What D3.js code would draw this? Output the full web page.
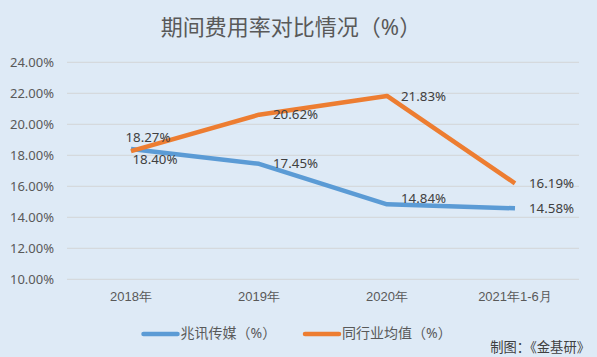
<!DOCTYPE html>
<html><head><meta charset="utf-8">
<script src="https://cdn.jsdelivr.net/npm/d3@7/dist/d3.min.js"></script>
<style>
html,body{margin:0;padding:0;background:#DEEAF6;}
svg{display:block;font-family:"Noto Sans","Noto Sans CJK SC",sans-serif;}
</style></head>
<body>
<svg id="c" width="597" height="357"></svg>
<script>
const categories = ["2018年","2019年","2020年","2021年1-6月"];
const zhaoxun = [18.40, 17.45, 14.84, 14.58];
const industry = [18.27, 20.62, 21.83, 16.19];
const yTicks = [10,12,14,16,18,20,22,24];
const seriesNames = ["兆讯传媒（%）","同行业均值（%）"];
const colors = ["#5B9BD5","#ED7D31"];
const title = "期间费用率对比情况（%）";
const source = "制图：《金基研》";

const svg = d3.select("#c");
const W = 597, H = 357;
svg.append("rect").attr("width",W).attr("height",H).attr("fill","#DEEAF6");

const x = d3.scaleBand().domain(categories).range([67,579]);
const y = d3.scaleLinear().domain([10,24]).range([279.3,62.3]);
const cx = c => x(c) + x.bandwidth()/2;

svg.append("text").attr("x",291).attr("y",34.5).attr("text-anchor","middle")
  .attr("font-size",22).attr("fill","#595959").text(title);

// grid
svg.append("g").selectAll("line").data(yTicks).join("line")
  .attr("x1",67).attr("x2",579).attr("y1",d=>y(d)).attr("y2",d=>y(d))
  .attr("stroke","#D3D5D8").attr("stroke-width",1);

// y axis
const yAxis = d3.axisLeft(y).tickValues(yTicks).tickFormat(d=>d.toFixed(2)+"%").tickSize(0).tickPadding(13);
const ga = svg.append("g").attr("transform","translate(67,0)").call(yAxis);
ga.select(".domain").remove();
ga.selectAll("text").attr("font-size",13).attr("fill","#595959").attr("font-family","Noto Sans");

// x axis
const xAxis = d3.axisBottom(x).tickSize(0).tickPadding(12);
const gx = svg.append("g").attr("transform","translate(0,279.3)").call(xAxis);
gx.select(".domain").remove();
gx.selectAll("text").attr("font-size",13).attr("fill","#595959");

const line = d3.line().x((d,i)=>cx(categories[i])).y(d=>y(d));
[zhaoxun, industry].forEach((s,k)=>{
  svg.append("path").datum(s).attr("d",line).attr("fill","none")
    .attr("stroke",colors[k]).attr("stroke-width",4.5)
    .attr("stroke-linejoin","round").attr("stroke-linecap","butt");
});

// labels
function label(val, i, k){
  let px = cx(categories[i]), py = y(val);
  let lx = px + 14, ly = py, anchor = "start";
  if (i===0){
    anchor = "middle";
    if (k===1){ lx = px + 17; ly = py - 14; }
    else { lx = px + 24; ly = py + 10; }
  }
  if (i===2 && k===0){ ly = py - 6; }
  svg.append("text").attr("x",lx).attr("y",ly).attr("dy","0.35em")
    .attr("text-anchor",anchor).attr("font-size",13.3).attr("fill","#404040")
    .text(val.toFixed(2)+"%");
}
zhaoxun.forEach((v,i)=>label(v,i,0));
industry.forEach((v,i)=>label(v,i,1));

// legend
const lg = [{x:143.5,t:seriesNames[0],c:colors[0]},{x:305,t:seriesNames[1],c:colors[1]}];
lg.forEach(d=>{
  svg.append("line").attr("x1",d.x).attr("x2",d.x+34).attr("y1",334).attr("y2",334)
    .attr("stroke",d.c).attr("stroke-width",4.5).attr("stroke-linecap","round");
  svg.append("text").attr("x",d.x+37).attr("y",333.5).attr("dy","0.35em")
    .attr("font-size",14).attr("fill","#595959").text(d.t);
});
svg.append("text").attr("x",590).attr("y",347).attr("dy","0.35em").attr("text-anchor","end")
  .attr("font-size",13.3).attr("fill","#404040").text(source);
</script>
</body></html>
